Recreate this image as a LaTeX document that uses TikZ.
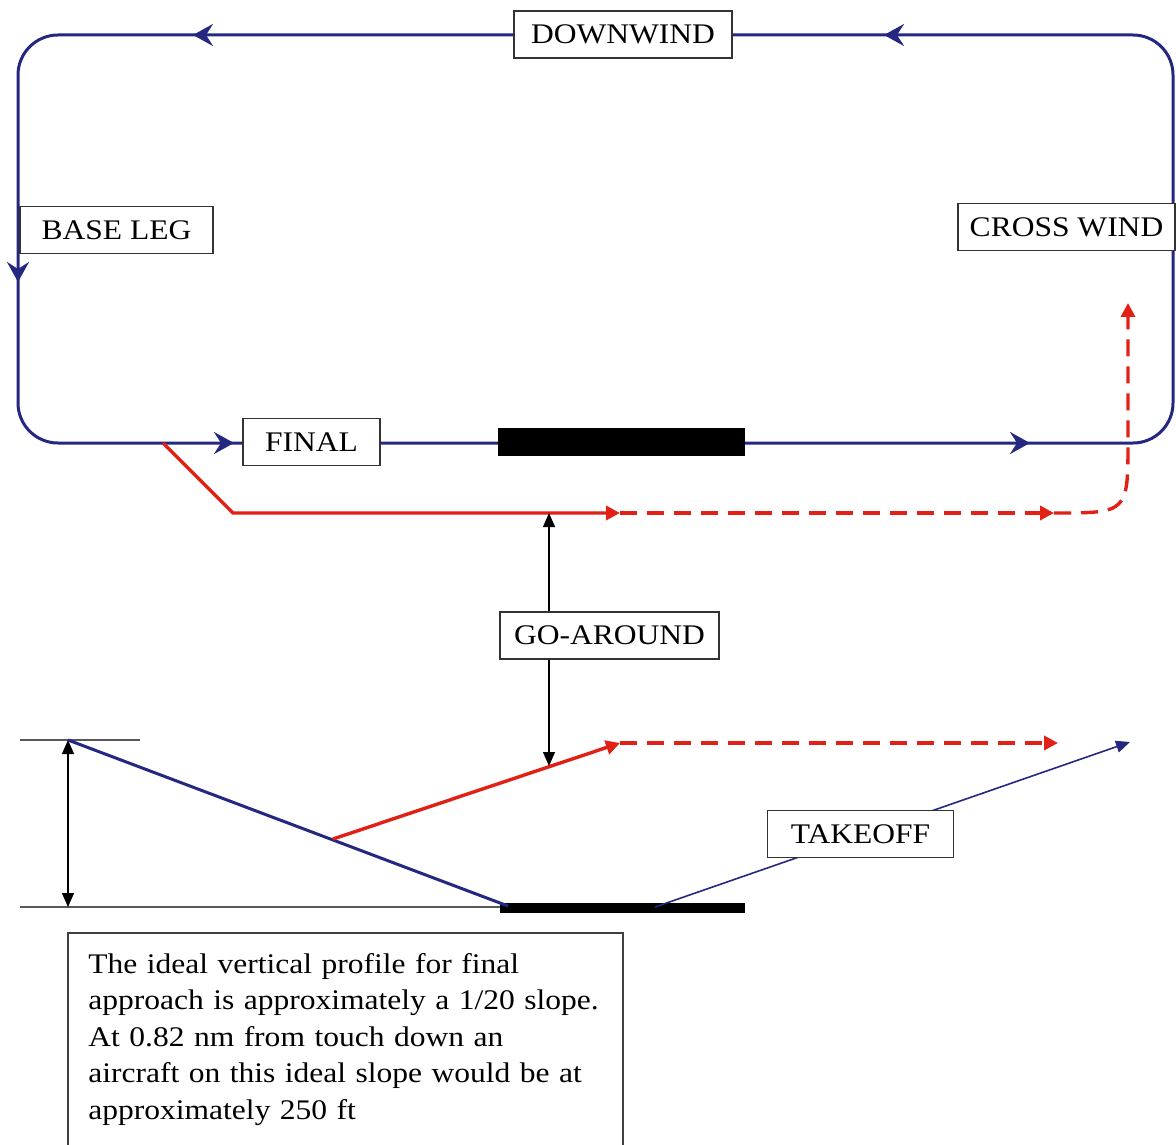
\documentclass[tikz,border=0pt]{standalone}
\usepackage{fontspec}
\setmainfont{Liberation Serif}[FakeStretch=1.11]
\usetikzlibrary{arrows.meta}

\definecolor{circuitblue}{RGB}{36,40,128}
\definecolor{gored}{RGB}{226,32,22}

\begin{document}
\begin{tikzpicture}[x=0.5pt, y=-0.5pt, font=\fontsize{14.2}{18.25}\selectfont,
    lbl/.style={draw=black!80, line width=0.8pt, fill=white, minimum height=23.5pt,
        inner xsep=0pt, text height=9.4pt, text depth=0pt},
    circuit/.style={draw=circuitblue, line width=1.5pt},
    legtip/.style={-{Stealth[length=10pt, width=11pt, inset=3.5pt]}},
    gopath/.style={draw=gored, line width=1.7pt},
    godash/.style={gopath, dash pattern=on 8.5pt off 5pt},
    redtip/.style={-{Triangle[length=7pt, width=7pt]}},
    ground/.style={draw=black!65, line width=0.9pt},
    thinline/.style={draw=black, line width=0.6pt},
    gatip/.style={-{Triangle[length=7pt, width=6pt]}}]
    \clip (0,0) rectangle (1176,1144);

    % traffic circuit
    \draw[circuit, rounded corners=20pt] (623,35) -- (18,35) -- (18,443) -- (1173,443) -- (1173,35) -- cycle;
    \foreach \xa/\ya/\xb/\yb in {200/35/193/35, 18/275/18/282, 227/443/234/443, 1023/443/1030/443, 891/35/884/35}
        \draw[circuit, legtip] (\xa,\ya) -- (\xb,\yb);
    \fill (498,428) rectangle (745,456);

    \node[lbl, minimum width=109pt] (downwind) at (623,34.5) {DOWNWIND};
    \node[lbl, minimum width=96.5pt] (baseleg) at (116.5,230) {BASE LEG};
    \node[lbl, minimum width=108.5pt] (crosswind) at (1066.5,227) {CROSS WIND};
    \node[lbl, minimum width=68.5pt] (final) at (311.5,442) {FINAL};

    % go-around, plan view
    \coordinate (breakoff) at (163,443);
    \draw[gopath, redtip] (breakoff) -- (233,513) -- (620,513) coordinate (climbout);
    \draw[godash, redtip] (climbout) -- (1054,513) coordinate (turnin);
    \draw[godash, redtip] (turnin) .. controls (1128,513) .. (1128,440) -- (1128,303);

    % vertical profile
    \draw[ground] (20,740) -- (140,740);
    \draw[ground] (20,907) -- (500,907);
    \fill (500,903) rectangle (745,913);
    \draw[thinline, {Triangle[length=7pt, width=6pt]}-{Triangle[length=7pt, width=6pt]}] (68,740) -- (68,907);
    \draw[circuit] (68,740) coordinate (apptop) -- (508,906) coordinate (touchdown);
    \draw[gopath, redtip] (333,839) coordinate (missed) -- (620,743) coordinate (leveloff);
    \draw[godash, redtip] (leveloff) -- (1058,743);
    \draw[draw=circuitblue, line width=0.8pt, -{Triangle[length=7pt, width=6pt]}] (655,907) coordinate (liftoff) -- (1130,742);
    \node[lbl, minimum width=93pt] (takeoff) at (860.5,834) {TAKEOFF};

    \node[lbl, minimum width=109.5pt] (goaround) at (609.5,635.5) {GO-AROUND};
    \coordinate (gatop) at (549,513);
    \coordinate (gabottom) at (549,766);
    \draw[thinline, gatip] (goaround.north -| gatop) -- (gatop);
    \draw[thinline, gatip] (goaround.south -| gatop) -- (gabottom);

    \node[anchor=north west, text width=257pt, inner sep=10pt, align=left] (note) at (68,933)
        {The ideal vertical profile for final\\ approach is approximately a 1/20 slope.\\
         At 0.82 nm from touch down an\\ aircraft on this ideal slope would be at\\ approximately 250 ft};
    \draw[draw=black!75, line width=0.8pt] ([yshift=-30pt]note.south west) -- (note.north west)
        -- (note.north east) -- ([yshift=-30pt]note.south east);
\end{tikzpicture}
\end{document}
